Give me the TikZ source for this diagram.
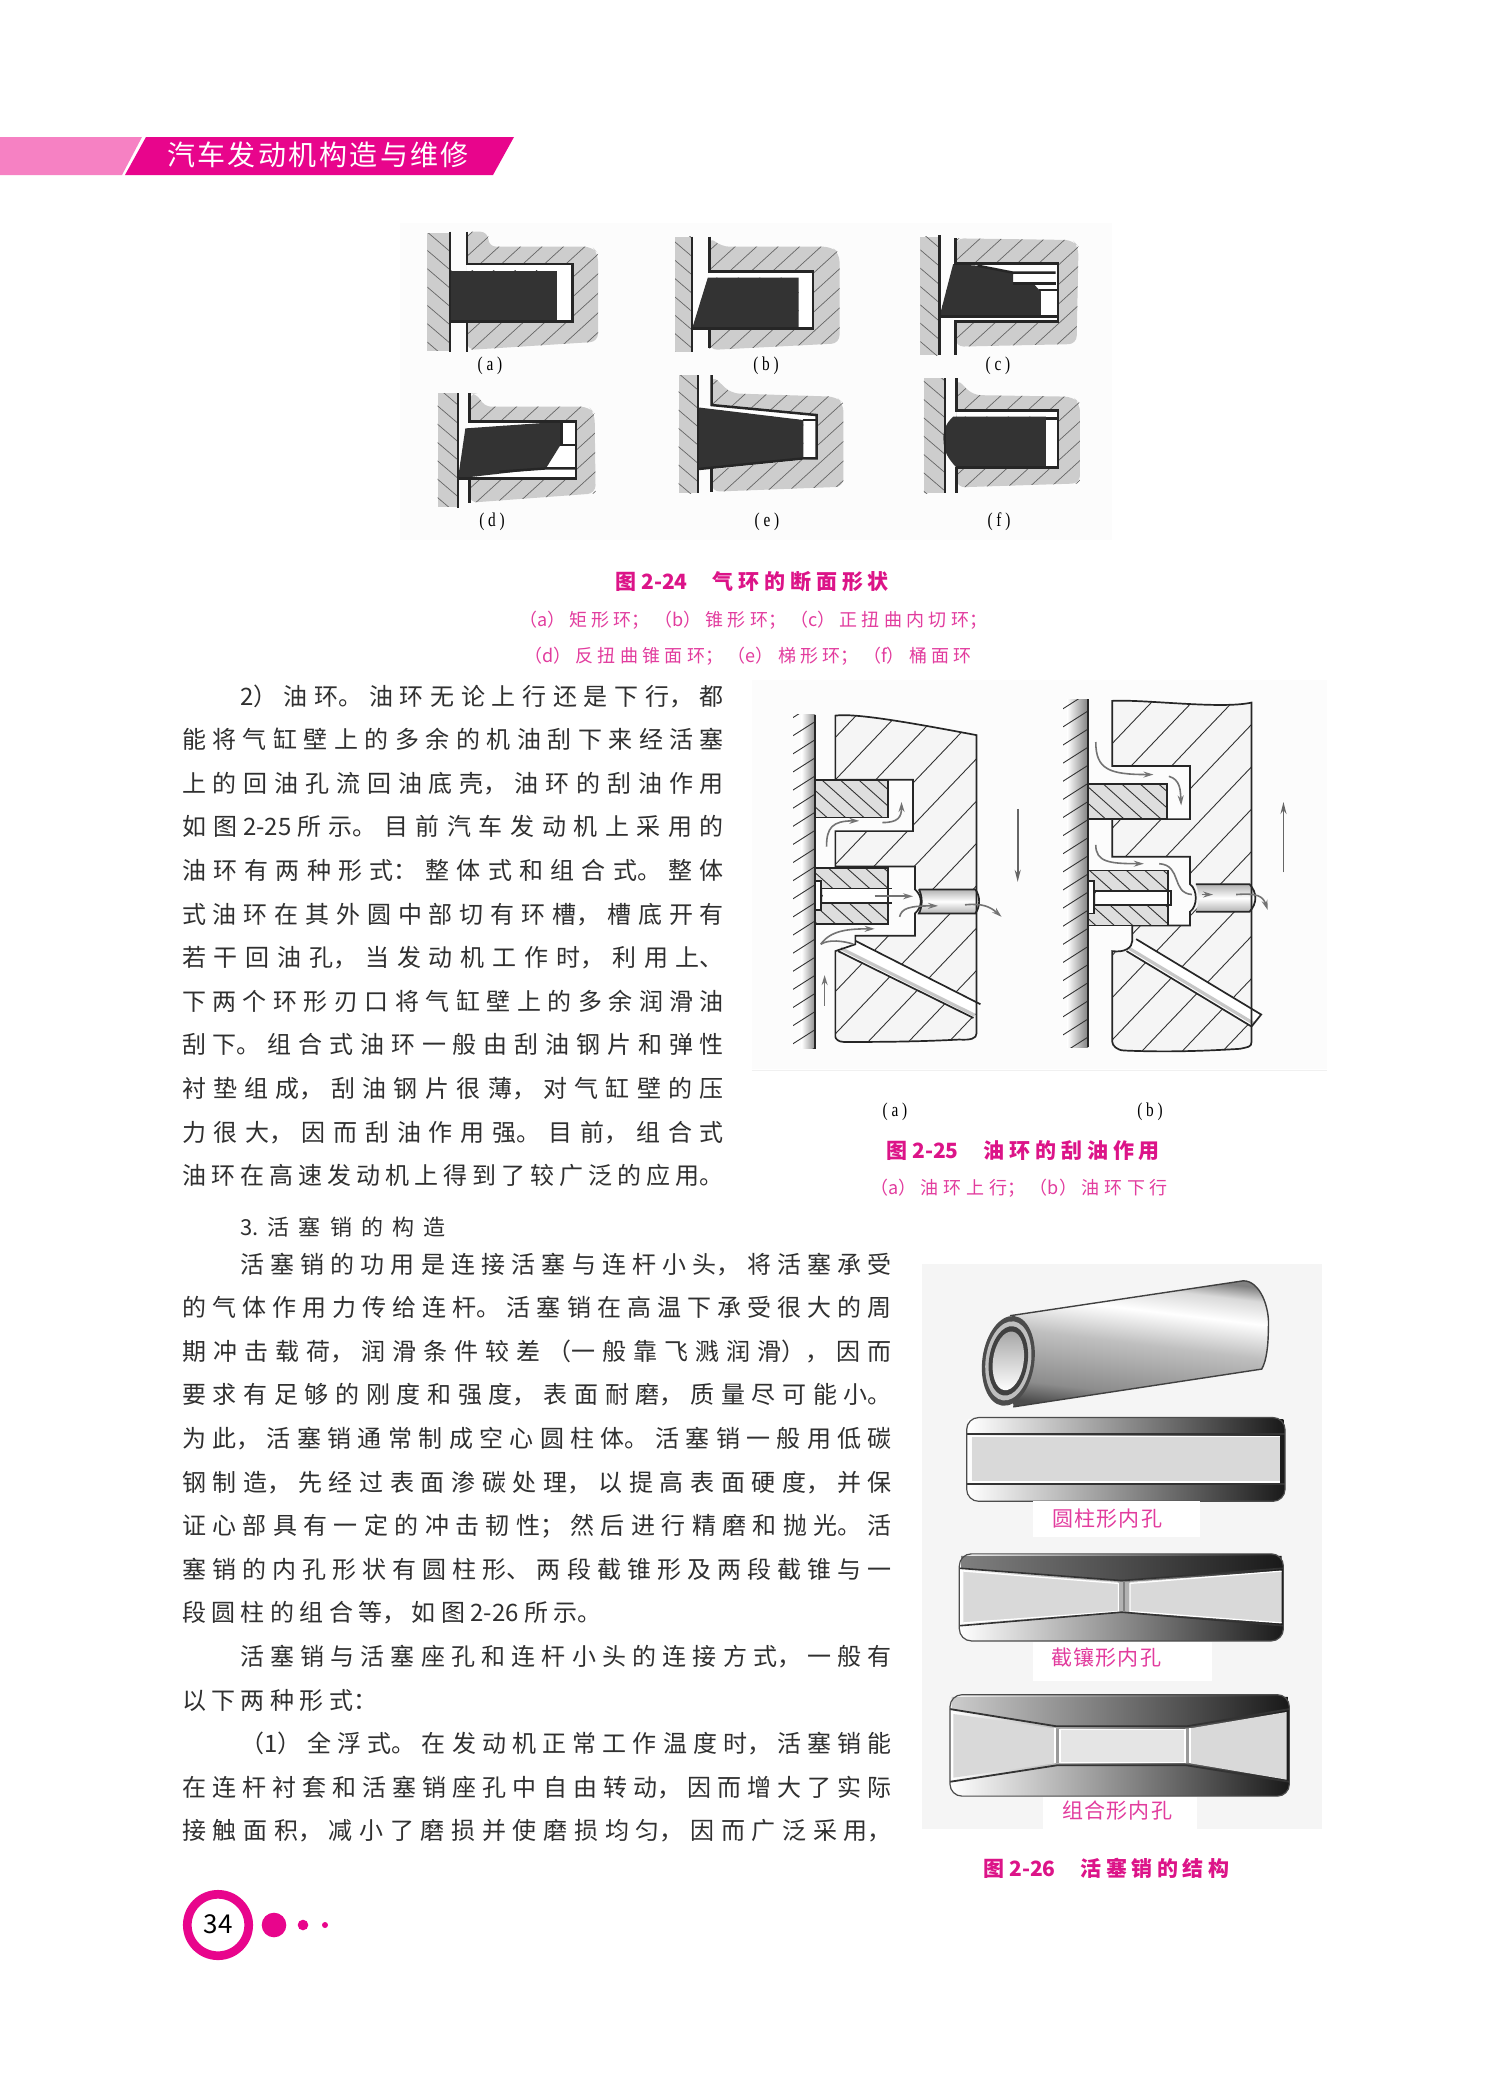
\documentclass[tikz,border=0pt]{standalone}
\usepackage{fontspec}
\setmainfont{Noto Sans CJK SC}
\newfontfamily\latinserif{Liberation Serif}
\definecolor{pinkd}{HTML}{E8058C}
\definecolor{pinkl}{HTML}{F681C3}
\definecolor{cap}{HTML}{DC1488}
\definecolor{capl}{HTML}{E23C9E}
\definecolor{bodyc}{HTML}{303030}
\definecolor{ringd}{HTML}{333333}
\definecolor{pgrey}{HTML}{CDCDCD}
\pgfdeclareverticalshading{cylshade}{100bp}{color(0bp)=(black!70); color(25bp)=(black!70); color(32bp)=(black!45); color(50bp)=(black!25); color(62bp)=(white); color(70bp)=(black!15); color(75bp)=(black!50); color(100bp)=(black!50)}
\newcommand\hatchin[4]{%
  \begin{scope}\clip #1;
  \pgfmathsetmacro\hsecond{-1600+#3}
  \foreach \hx in {-1600,\hsecond,...,2600}{\draw[#4] (\hx,-100) -- ++({#2*1300},1300);}
  \end{scope}}
\newcommand\jl[2]{\parbox{#1}{\XeTeXlinebreaklocale "zh"\XeTeXlinebreakskip=0pt plus 12pt\relax\tolerance=10000\hbadness=10000\parfillskip=0pt\noindent #2\par}}
\newcommand\lab[1]{\scalebox{0.9}[1.15]{\latinserif\fontsize{8.5pt}{10pt}\selectfont #1}}
\newcommand\bodysetup{\XeTeXlinebreaklocale "zh"\XeTeXlinebreakskip=2.7pt plus 12pt minus 2pt\relax\tolerance=10000\hbadness=10000\parfillskip=0pt\baselineskip=21.8pt}
\tikzset{
  fa/.style={shift={(380,200)},x=0.2439pt,y=-0.1667pt},
  fb/.style={shift={(740,670)},x=0.1923pt,y=-0.1714pt},
  fc/.style={shift={(900,1250)},x=0.16667pt,y=-0.2053pt},
  hline/.style={line width=1.25pt,black!85},
  hthin/.style={line width=0.35pt,black!60},
  hring/.style={line width=0.3pt,black!60!gray},
  txt/.style={inner sep=0pt,outer sep=0pt},
  title/.style={txt,text=cap,font=\fontsize{10.5pt}{13pt}\selectfont\bfseries},
  sub/.style={txt,text=capl,font=\fontsize{9pt}{12pt}\selectfont},
  piclabel/.style={txt,text=capl,font=\fontsize{10.5pt}{13pt}\selectfont},
  blk/.style={txt,anchor=base west,text=bodyc,font=\fontsize{12pt}{21.8pt}\selectfont},
  bline/.style={line width=0.85pt,black!85},
  hb/.style={line width=0.45pt,black!80},
  flow/.style={line width=0.8pt,black!55,-{Stealth[length=5pt,width=3pt]}},
  move/.style={line width=0.8pt,black!60,-{Stealth[length=6pt,width=3pt]}},
  holef/.style={top color=black!30,bottom color=black!30,middle color=white}
}
\usetikzlibrary{arrows.meta}
\begin{document}
\begin{tikzpicture}[x=0.5pt,y=-0.5pt]
\useasboundingbox (0,0) rectangle (1504,2094);
\fill[white] (0,0) rectangle (1504,2094);
% header
\fill[pinkl] (0,137) -- (142,137) -- (122,175) -- (0,175) -- cycle;
\fill[pinkd] (146,137) -- (514,137) -- (493,175) -- (125,175) -- cycle;
\node[txt,text=white,font=\fontsize{14pt}{16pt}\selectfont] (head) at (318,155) {\jl{151pt}{汽车发动机构造与维修}};
% ---------- Fig 2-24
\begin{scope}[fa]
\fill[black!1] (40,70) rectangle (1500,1020);
% (a)
\fill[pgrey] (97,100) rectangle (143,452);
\def\pp{(178,95)--(222,95)--(222,140)--(435,140)--(447,160)--(447,425)--(178,450)--cycle}
\fill[pgrey,rounded corners=4pt] \pp;
\hatchin{\pp}{-0.75}{44}{hthin}
\hatchin{(97,100) rectangle (143,452)}{0.8}{44}{hthin}
\fill[white] (178,192) rectangle (395,365);
\fill[ringd] (143,212) rectangle (362,362);
\hatchin{(143,212) rectangle (362,362)}{0.8}{44}{hring}
\draw[hline] (143,95) -- (143,455);
\draw[hline] (178,95) -- (178,192) -- (395,192) -- (395,365) -- (143,365);
\draw[hline] (178,365) -- (178,455);
% (b)
\fill[pgrey] (605,110) rectangle (640,455);
\def\pp{(675,110)--(700,140)--(925,140)--(942,160)--(942,430)--(675,450)--cycle}
\fill[pgrey,rounded corners=4pt] \pp;
\hatchin{\pp}{-0.75}{44}{hthin}
\hatchin{(605,110) rectangle (640,455)}{0.8}{44}{hthin}
\fill[white] (675,215) rectangle (888,385);
\fill[ringd] (672,233) -- (858,233) -- (858,385) -- (640,385) -- cycle;
\hatchin{(672,233) -- (858,233) -- (858,385) -- (640,385) -- cycle}{0.8}{44}{hring}
\draw[hline] (640,110) -- (640,455);
\draw[hline] (675,110) -- (675,215) -- (888,215) -- (888,385) -- (640,385);
\draw[hline] (675,385) -- (675,445);
% (c)
\fill[pgrey] (1108,110) rectangle (1147,465);
\def\pp{(1180,115)--(1420,120)--(1432,140)--(1428,432)--(1180,440)--cycle}
\fill[pgrey,rounded corners=4pt] \pp;
\hatchin{\pp}{-0.75}{44}{hthin}
\hatchin{(1108,110) rectangle (1147,465)}{0.8}{44}{hthin}
\fill[white] (1175,190) rectangle (1390,365);
\fill[ringd] (1175,192) -- (1225,197) -- (1298,218) -- (1298,250) -- (1340,252) -- (1355,275) -- (1355,350) -- (1147,350) -- cycle;
\hatchin{(1175,192) -- (1225,197) -- (1298,218) -- (1298,250) -- (1340,252) -- (1355,275) -- (1355,350) -- (1147,350) -- cycle}{0.8}{44}{hring}
\draw[hline] (1147,105) -- (1147,465);
\draw[hline] (1180,115) -- (1180,190) -- (1390,190) -- (1390,365) -- (1180,365) -- (1180,465);
\draw[hline] (1225,197) -- (1298,218) -- (1385,218);
\draw[hline] (1298,250) -- (1385,250) (1350,270) -- (1388,270);
\draw[hline] (1147,350) -- (1388,350);
% (d)
\fill[pgrey] (118,580) rectangle (160,920);
\def\pp{(183,580)--(200,580)--(212,620)--(428,620)--(440,640)--(442,880)--(183,908)--cycle}
\fill[pgrey,rounded corners=4pt] \pp;
\hatchin{\pp}{-0.75}{44}{hthin}
\hatchin{(118,580) rectangle (160,920)}{0.8}{44}{hthin}
\fill[white] (178,665) rectangle (402,835);
\fill[ringd] (175,685) -- (372,665) -- (372,730) -- (340,805) -- (160,835) -- cycle;
\hatchin{(175,685) -- (372,665) -- (372,730) -- (340,805) -- (160,835) -- cycle}{0.8}{44}{hring}
\draw[hline] (160,580) -- (160,925);
\draw[hline] (183,580) -- (183,665) -- (402,665) -- (402,835) -- (160,835);
\draw[hline] (183,835) -- (183,910);
\draw[hline] (372,665) -- (372,735) -- (402,735);
\draw[hline] (245,815) -- (340,805) -- (402,805);
% (e)
\fill[pgrey] (612,525) rectangle (652,880);
\def\pp{(680,525)--(720,580)--(935,590)--(950,610)--(950,860)--(680,875)--cycle}
\fill[pgrey,rounded corners=4pt] \pp;
\hatchin{\pp}{-0.75}{44}{hthin}
\hatchin{(612,525) rectangle (652,880)}{0.8}{44}{hthin}
\fill[white] (680,615) -- (895,645) -- (895,775) -- (652,812) -- (652,615) -- cycle;
\fill[ringd] (652,622) -- (868,660) -- (868,775) -- (652,805) -- cycle;
\hatchin{(652,622) -- (868,660) -- (868,775) -- (652,805) -- cycle}{0.8}{44}{hring}
\draw[hline] (652,525) -- (652,880);
\draw[hline] (680,525) -- (680,615) -- (895,645) -- (895,775) -- (868,775) -- (652,807);
\draw[hline] (680,807) -- (680,875);
\draw[hline] (868,660) -- (895,660);
% (f)
\fill[pgrey] (1115,535) rectangle (1158,880);
\def\pp{(1182,535)--(1215,585)--(1420,590)--(1435,610)--(1435,850)--(1182,862)--cycle}
\fill[pgrey,rounded corners=4pt] \pp;
\hatchin{\pp}{-0.75}{44}{hthin}
\hatchin{(1115,535) rectangle (1158,880)}{0.8}{44}{hthin}
\fill[white] (1182,632) rectangle (1390,802);
\fill[ringd] (1175,650) -- (1365,650) -- (1365,800) -- (1180,800) .. controls (1165,775) and (1155,755) .. (1155,715) .. controls (1155,690) and (1160,670) .. cycle;
\hatchin{(1175,650) -- (1365,650) -- (1365,800) -- (1180,800) -- (1155,735) -- (1155,695) -- cycle}{0.8}{44}{hring}
\draw[hline] (1158,535) -- (1158,880);
\draw[hline] (1182,535) -- (1182,632) -- (1390,632) -- (1390,802) -- (1180,802);
\draw[hline] (1182,802) -- (1182,880);
\draw[hline] (1365,655) -- (1390,655);
\end{scope}
\node[txt] (l24a) at (490,366) {\lab{( a )}};
\node[txt] (l24b) at (766,366) {\lab{( b )}};
\node[txt] (l24c) at (998,366) {\lab{( c )}};
\node[txt] (l24d) at (492,522) {\lab{( d )}};
\node[txt] (l24e) at (767,522) {\lab{( e )}};
\node[txt] (l24f) at (999,522) {\lab{( f )}};
\node[title] (t24) at (752,582) {\jl{137pt}{图 2-24\hspace{1.2em}气环的断面形状}};
\node[sub] (s24a) at (753,620) {\jl{234pt}{（a）矩形环；（b）锥形环；（c）正扭曲内切环；}};
\node[sub] (s24b) at (748,656) {\jl{224pt}{（d）反扭曲锥面环；（e）梯形环；（f）桶面环}};
% ---------- Fig 2-25
\begin{scope}[fb]
\fill[black!1] (30,30) rectangle (1525,1165);
\draw[black!6,line width=0.4pt] (30,1168) -- (1525,1168);
% wall a
\shade[left color=white,right color=black!45] (160,130) rectangle (195,1105);
\hatchin{(138,130) rectangle (195,1105)}{-1.4}{74}{hb}
\draw[bline] (195,130) -- (195,1105);
% piston a
\def\pa{(248,133) .. controls (300,125) and (450,155) .. (615,190) -- (615,1060) .. controls (615,1075) and (600,1080) .. (570,1078) .. controls (450,1085) and (350,1085) .. (270,1085) .. controls (255,1085) and (248,1075) .. (248,1070) -- (248,820) -- (300,800) -- (300,775) -- (455,775) -- (455,710) .. controls (475,690) and (475,660) .. (455,640) -- (455,573) -- (248,573) -- (248,470) -- (450,470) -- (450,320) -- (248,320) -- cycle}
\fill[black!4] \pa;
\hatchin{\pa}{-0.85}{105}{hb}
\shade[holef] (465,640) -- (612,640) .. controls (625,660) and (625,690) .. (612,710) -- (465,710) .. controls (475,690) and (475,660) .. (465,640) -- cycle;
\fill[white] (300,790) -- (625,975) -- (607,1015) -- (255,820) -- cycle;
\draw[black!22,line width=1.6pt] (262,812) -- (610,1007);
\draw[bline] \pa;
\draw[bline] (465,640) -- (612,640) .. controls (625,660) and (625,690) .. (612,710) -- (465,710) .. controls (475,690) and (475,660) .. (465,640);
\draw[bline] (300,790) -- (625,975) (255,820) -- (607,1015);
% rings a
\fill[black!13] (195,320) rectangle (385,430);
\hatchin{(195,320) rectangle (385,430)}{1}{48}{hb}
\draw[bline] (195,320) rectangle (385,430);
\fill[black!13] (195,577) rectangle (385,740);
\hatchin{(195,577) rectangle (385,740)}{1}{48}{hb}
\fill[white] (215,637) rectangle (395,680);
\fill[white] (195,615) rectangle (210,700);
\draw[bline] (195,577) rectangle (385,740);
\draw[bline] (210,637) -- (395,637) (210,680) -- (395,680);
\draw[bline] (195,615) rectangle (210,700);
% flows a
\draw[flow] (225,515) .. controls (225,460) and (240,440) .. (310,440);
\draw[flow] (370,445) .. controls (410,445) and (420,430) .. (420,385);
\draw[flow] (350,660) -- (450,660);
\draw[flow] (415,720) .. controls (420,695) and (440,688) .. (515,688);
\draw[flow] (585,685) .. controls (630,680) and (650,690) .. (680,720);
\draw[flow] (210,800) .. controls (235,760) and (280,755) .. (350,755);
\draw[line width=0.8pt,black!55] (210,800) .. controls (230,785) and (270,790) .. (295,800);
\draw[flow] (220,980) -- (220,890);
\draw[move] (722,405) -- (722,618);
% wall b
\shade[left color=white,right color=black!50] (850,85) rectangle (905,1100);
\hatchin{(840,85) rectangle (905,1100)}{-1.4}{74}{hb}
\draw[bline] (905,85) -- (905,1100);
% piston b
\def\pb{(968,90) .. controls (1050,85) and (1250,115) .. (1330,95) -- (1330,1085) .. controls (1330,1100) and (1320,1100) .. (1300,1105) .. controls (1200,1112) and (1100,1115) .. (1000,1110) .. controls (980,1110) and (968,1095) .. (968,1085) -- (968,820) .. controls (1000,825) and (1020,810) .. (1020,790) -- (1020,745) -- (1170,745) -- (1170,705) .. controls (1190,690) and (1190,640) .. (1170,625) -- (1170,545) -- (968,545) -- (968,435) -- (1170,435) -- (1170,280) -- (968,280) -- cycle}
\fill[black!4] \pb;
\hatchin{\pb}{-0.85}{105}{hb}
\shade[holef] (1185,625) -- (1325,625) .. controls (1345,650) and (1345,680) .. (1325,705) -- (1185,705) .. controls (1195,680) and (1195,650) .. (1185,625) -- cycle;
\fill[white] (1030,785) -- (1355,1005) -- (1330,1040) -- (1005,820) -- cycle;
\draw[black!22,line width=1.6pt] (1012,812) -- (1337,1032);
\draw[bline] \pb;
\draw[bline] (1185,625) -- (1325,625) .. controls (1345,650) and (1345,680) .. (1325,705) -- (1185,705);
\draw[bline] (1030,785) -- (1355,1005) -- (1330,1040) (1005,820) -- (1330,1040);
% rings b
\fill[black!13] (905,333) rectangle (1110,435);
\hatchin{(905,333) rectangle (1110,435)}{1}{48}{hb}
\draw[bline] (905,333) rectangle (1110,435);
\fill[black!13] (905,585) rectangle (1112,745);
\hatchin{(905,585) rectangle (1112,745)}{1}{48}{hb}
\fill[white] (925,645) rectangle (1120,685);
\fill[white] (905,615) rectangle (920,710);
\draw[bline] (905,585) rectangle (1112,745);
\draw[bline] (920,645) -- (1120,645) -- (1120,685) -- (920,685);
\draw[bline] (905,615) rectangle (920,710);
% flows b
\draw[flow] (925,210) .. controls (925,290) and (960,305) .. (1075,305);
\draw[flow] (1115,310) .. controls (1145,320) and (1145,350) .. (1147,395);
\draw[flow] (925,510) .. controls (925,560) and (960,565) .. (1050,565);
\draw[line width=0.8pt,black!55] (1090,565) .. controls (1150,570) and (1120,650) .. (1175,655);
\draw[flow] (1200,655) -- (1230,655);
\draw[flow] (1290,655) .. controls (1345,650) and (1360,660) .. (1372,700);
\draw[move] (1413,590) -- (1413,385);
\end{scope}
\node[txt] (l25a) at (895,1112) {\lab{( a )}};
\node[txt] (l25b) at (1150,1112) {\lab{( b )}};
\node[title] (t25) at (1023,1151) {\jl{137pt}{图 2-25\hspace{1.2em}油环的刮油作用}};
\node[sub] (s25) at (1019,1188) {\jl{149pt}{（a）油环上行；（b）油环下行}};
% ---------- Fig 2-26
\begin{scope}[fc]
\fill[black!4] (65,35) rectangle (1265,1410);
% cylinder
\shade[shading=cylshade,shading angle=-7]
  (330,160) -- (1030,75) .. controls (1080,75) and (1110,140) .. (1105,190) .. controls (1105,230) and (1100,270) .. (1085,290) -- (340,382) -- cycle;
\draw[black!75,line width=0.7pt] (330,160) -- (1030,75) .. controls (1080,75) and (1110,140) .. (1105,190) .. controls (1105,230) and (1100,270) .. (1085,290) -- (340,382);
\fill[black!70,rotate around={-8:(325,270)}] (325,270) ellipse (78 and 110);
\fill[black!25,rotate around={-8:(325,270)}] (325,270) ellipse (68 and 97);
\fill[black!75,rotate around={-8:(325,270)}] (325,270) ellipse (58 and 85);
\shade[top color=black!35,bottom color=white,rotate around={-8:(325,270)}] (325,270) ellipse (46 and 72);
% section 1
\shade[left color=white,middle color=black!65,right color=black!90,rounded corners=6pt] (200,408) rectangle (1155,612);
\shade[left color=white,middle color=black!25,right color=black!90] (205,412) rectangle (1150,448);
\fill[black!15] (215,455) rectangle (1140,565);
\draw[black!80,line width=0.9pt] (200,448) -- (1155,448) (200,570) -- (1155,570);
\draw[white,line width=0.6pt] (212,455) -- (1140,455) (212,565) -- (1140,565);
\draw[black!70,line width=0.6pt,rounded corners=6pt] (200,408) rectangle (1155,612);
% section 2
\shade[left color=white,middle color=black!70,right color=black!90,rounded corners=6pt] (178,740) rectangle (1150,952);
\shade[left color=black!50,middle color=black!30,right color=black!90] (183,745) -- (1145,745) -- (1145,775) -- (665,805) -- (183,775) -- cycle;
\fill[black!15] (190,782) -- (655,808) -- (655,882) -- (190,908) -- cycle;
\fill[black!15] (690,808) -- (1145,782) -- (1145,908) -- (690,882) -- cycle;
\fill[black!30] (655,808) rectangle (690,882);
\draw[white,line width=0.6pt] (190,782) -- (655,812) -- (655,880) -- (190,908) (1145,782) -- (690,812) -- (690,880) -- (1145,908);
\draw[black!80,line width=0.8pt] (178,775) -- (665,805) -- (1150,775) (178,915) -- (665,882) -- (1150,915);
\draw[black!50,line width=1.2pt] (672,808) -- (672,882);
\draw[black!70,line width=0.6pt,rounded corners=6pt] (178,740) rectangle (1150,952);
% section 3
\shade[left color=white,middle color=black!70,right color=black!90,rounded corners=6pt] (150,1083) rectangle (1168,1330);
\shade[left color=black!20,middle color=black!40,right color=black!90] (155,1088) -- (1163,1088) -- (1163,1118) -- (860,1160) -- (470,1160) -- (155,1118) -- cycle;
\fill[black!15] (160,1130) -- (465,1165) -- (465,1250) -- (160,1285) -- cycle;
\fill[black!10] (480,1168) rectangle (855,1248);
\fill[black!15] (870,1165) -- (1160,1125) -- (1160,1290) -- (870,1250) -- cycle;
\fill[black!40] (465,1165) rectangle (480,1250) (855,1165) rectangle (870,1250);
\draw[white,line width=0.6pt] (465,1165) -- (465,1250) (480,1168) -- (855,1168) -- (855,1248) -- (480,1248) -- cycle (870,1165) -- (870,1250);
\draw[black!80,line width=0.9pt] (150,1118) -- (470,1160) -- (860,1160) -- (1168,1118) (150,1295) -- (470,1255) -- (860,1255) -- (1168,1295);
\draw[black!70,line width=0.6pt,rounded corners=6pt] (150,1083) rectangle (1168,1330);
% label boxes
\fill[white] (400,612) rectangle (900,700);
\fill[white] (400,955) rectangle (935,1050);
\fill[white] (430,1332) rectangle (890,1410);
\end{scope}
\node[piclabel] (l26a) at (1107,1519) {\jl{55pt}{圆柱形内孔}};
\node[piclabel] (l26b) at (1106,1657) {\jl{55pt}{截镶形内孔}};
\node[piclabel] (l26c) at (1117,1811) {\jl{55pt}{组合形内孔}};
\node[title] (t26) at (1106,1868) {\jl{123pt}{图 2-26\hspace{1.2em}活塞销的结构}};
% ---------- body text
\node[blk] (b1) at (182,705) {\parbox[t]{271pt}{\bodysetup\noindent\hspace*{29pt}2）油环。油环无论上行还是下行，都\break
能将气缸壁上的多余的机油刮下来经活塞\break
上的回油孔流回油底壳，油环的刮油作用\break
如图 2-25 所示。目前汽车发动机上采用的\break
油环有两种形式：整体式和组合式。整体\break
式油环在其外圆中部切有环槽，槽底开有\break
若干回油孔，当发动机工作时，利用上、\break
下两个环形刃口将气缸壁上的多余润滑油\break
刮下。组合式油环一般由刮油钢片和弹性\break
衬垫组成，刮油钢片很薄，对气缸壁的压\break
力很大，因而刮油作用强。目前，组合式\break
油环在高速发动机上得到了较广泛的应用。\par}};
\node[blk,font=\fontsize{11pt}{14pt}\selectfont] (b2h) at (240,1233) {\jl{103pt}{3. 活塞销的构造}};
\node[blk] (b2) at (182,1273) {\parbox[t]{355pt}{\bodysetup\noindent\hspace*{29pt}活塞销的功用是连接活塞与连杆小头，将活塞承受\break
的气体作用力传给连杆。活塞销在高温下承受很大的周\break
期冲击载荷，润滑条件较差（一般靠飞溅润滑），因而\break
要求有足够的刚度和强度，表面耐磨，质量尽可能小。\break
为此，活塞销通常制成空心圆柱体。活塞销一般用低碳\break
钢制造，先经过表面渗碳处理，以提高表面硬度，并保\break
证心部具有一定的冲击韧性；然后进行精磨和抛光。活\break
塞销的内孔形状有圆柱形、两段截锥形及两段截锥与一\break
段圆柱的组合等，如图 2-26 所示。\hfill\break
\hspace*{29pt}活塞销与活塞座孔和连杆小头的连接方式，一般有\break
以下两种形式：\hfill\break
\hspace*{29pt}（1）全浮式。在发动机正常工作温度时，活塞销能\break
在连杆衬套和活塞销座孔中自由转动，因而增大了实际\break
接触面积，减小了磨损并使磨损均匀，因而广泛采用，\par}};
% ---------- footer
\draw[pinkd,line width=4.35pt] (218,1925) circle (30.7);
\node[txt,font=\fontsize{13pt}{15pt}\selectfont,text=black] (pg) at (218,1924) {34};
\fill[pinkd] (274,1925) circle (12.3);
\fill[pinkd] (303,1925) circle (5.3);
\fill[pinkd] (325,1925) circle (3);
\end{tikzpicture}
\end{document}
